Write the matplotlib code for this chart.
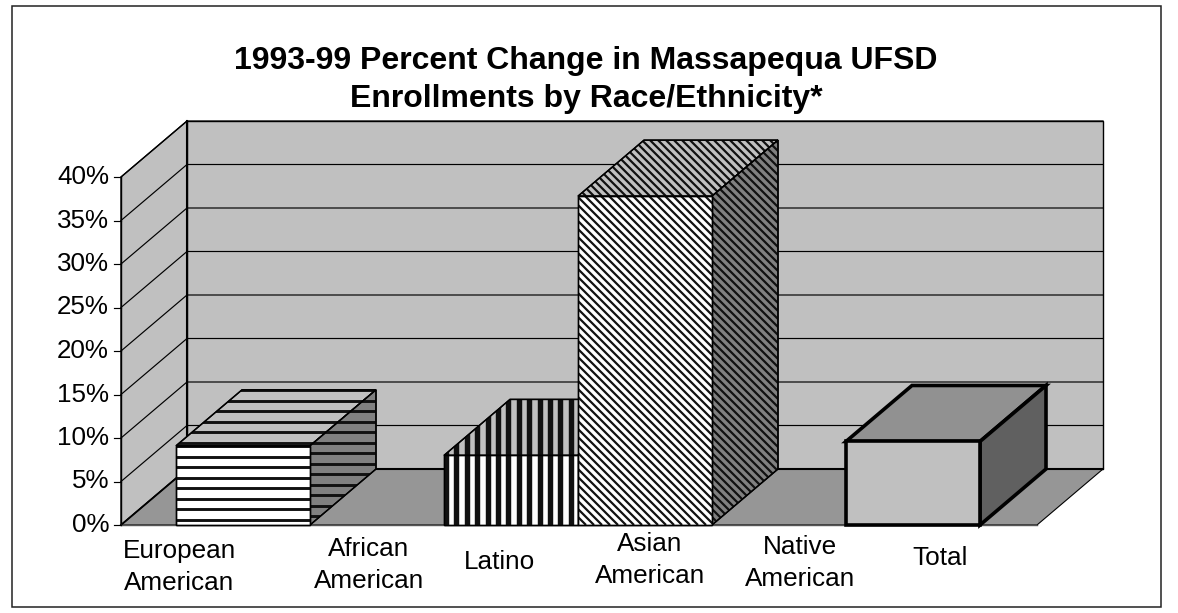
import numpy as np
import matplotlib
matplotlib.use('Agg')
import matplotlib.pyplot as plt
from matplotlib.collections import LineCollection
from matplotlib.patches import Polygon
from matplotlib.transforms import IdentityTransform

plt.rcParams['font.family'] = ['Liberation Sans', 'DejaVu Sans']

# Enrollment change by group, percent
categories = ['European\nAmerican', 'African\nAmerican', 'Latino', 'Asian\nAmerican', 'Native\nAmerican', 'Total']
values = [9.1, 0.0, 8.0, 37.8, 0.0, 9.6]
tick_values = [0, 5, 10, 15, 20, 25, 30, 35, 40]
tick_labels = ['0%', '5%', '10%', '15%', '20%', '25%', '30%', '35%', '40%']
title = '1993-99 Percent Change in Massapequa UFSD\nEnrollments by Race/Ethnicity*'

W, H = 1178, 613
DPI = 100
PX_CAT = 134.0   # pixels per category
PX_PCT = 8.7     # pixels per percent
X0, Y0 = 176.0, 525.0   # pixel position of the first bar's lower left corner

fig = plt.figure(figsize=(W / DPI, H / DPI), dpi=DPI, facecolor='white')
ax = fig.add_axes([0, 0, 1, 1])
ax.set_xlim(-X0 / PX_CAT, (W - X0) / PX_CAT)
ax.set_ylim(-(H - Y0) / PX_PCT, Y0 / PX_PCT)
ax.axis('off')

DX = 66.0 / PX_CAT  # oblique depth offset
DY = 56.0 / PX_PCT
LEFT = -55.0 / PX_CAT
RIGHT = len(categories) + 57.0 / PX_CAT
TOP = tick_values[-1]


def P(x, y, d=0.0):
    return (x + d * DX, y + d * DY)


def face(points, color, lw=1.0, z=2):
    patch = Polygon(points, closed=True, facecolor=color, edgecolor='black', linewidth=lw, zorder=z, joinstyle='miter')
    ax.add_patch(patch)
    return patch


def stripes(patch, kind, period, lw, z, color='#000000'):
    # fill a face with pixel spaced stripes, clipped to the face
    pts = ax.transData.transform(patch.get_xy())
    x0, y0 = pts.min(axis=0)
    x1, y1 = pts.max(axis=0)
    segs = []
    if kind == 'h':
        for y in np.arange(y1 - 0.5, y0, -period):
            segs.append([(x0, y), (x1, y)])
    elif kind == 'v':
        for x in np.arange(x0 + 2, x1, period):
            segs.append([(x, y0), (x, y1)])
    else:
        span = (x1 - x0) + (y1 - y0)
        for c in np.arange(0, span, period):
            segs.append([(x0 + c - (y1 - y0), y1), (x0 + c, y0)])
    lc = LineCollection(segs, colors=color, linewidths=lw, transform=IdentityTransform(), zorder=z)
    ax.add_collection(lc, autolim=False)
    lc.set_clip_path(patch.get_path(), patch.get_transform())


# walls and floor
face([P(LEFT, 0), P(LEFT, TOP), P(LEFT, TOP, 1), P(LEFT, 0, 1)], '#c0c0c0', 1.0, 1)
face([P(LEFT, 0, 1), P(LEFT, TOP, 1), P(RIGHT, TOP, 1), P(RIGHT, 0, 1)], '#c0c0c0', 1.0, 1)
face([P(LEFT, 0), P(LEFT, 0, 1), P(RIGHT, 0, 1), P(RIGHT, 0)], '#969696', 0.8, 1)
for t in tick_values[1:]:
    xs, ys = zip(P(LEFT, t), P(LEFT, t, 1), P(RIGHT, t, 1))
    ax.plot(xs, ys, color='black', lw=0.85, zorder=1.5)
ax.plot(*zip(P(LEFT, 0, 1), P(LEFT, TOP, 1)), color='black', lw=1.5, zorder=1.5)
ax.plot(*zip(P(LEFT, 0, 1), P(RIGHT, 0, 1)), color='black', lw=1.5, zorder=1.5)
ax.plot(*zip(P(LEFT, 0), P(LEFT, 0, 1)), color='black', lw=1.3, zorder=1.5)
ax.plot(*zip(P(LEFT, 0), P(LEFT, TOP)), color='black', lw=1.0, zorder=1.5)
ax.plot(*zip(P(LEFT, 0), P(RIGHT, 0)), color='#555555', lw=1.0, zorder=1.5)

# y ticks
for t, lab in zip(tick_values, tick_labels):
    ax.plot([LEFT - 7 / PX_CAT, LEFT], [t, t], color='black', lw=0.85, zorder=1.5)
    ax.text(LEFT - 12 / PX_CAT, t, lab, ha='right', va='center', fontsize=18.7, color='black')

# bars, left to right
bar_styles = [('h', 10.5, 2.1), None, ('v', 10.4, 3.9), ('d', 8.0, 1.6), None, None]
z = 3
for i, (v, st) in enumerate(zip(values, bar_styles)):
    if v == 0:
        continue
    solid = st is None
    lw = 2.6 if solid else 1.0
    top = [P(i, v), P(i, v, 1), P(i + 1, v, 1), P(i + 1, v)]
    side = [P(i + 1, 0), P(i + 1, v), P(i + 1, v, 1), P(i + 1, 0, 1)]
    front = [P(i, 0), P(i, v), P(i + 1, v), P(i + 1, 0)]
    colors = ('#919191', '#606060', '#c0c0c0') if solid else ('#c0c0c0', '#808080', '#ffffff')
    for pts, col in zip((top, side, front), colors):
        p = face(pts, col, lw, z)
        if not solid:
            stripes(p, st[0], st[1], st[2], z + 0.1, color='#111111')
            ax.add_patch(Polygon(pts, closed=True, fill=False, edgecolor='black', linewidth=lw, zorder=z + 0.2))
        z += 1

# category labels
label_x = [179, 369, 499, 650, 800, 940]
label_y = [567, 565, 562, 560, 563, 558]
for name, lx, ly in zip(categories, label_x, label_y):
    ax.text((lx - X0) / PX_CAT, (Y0 - ly) / PX_PCT, name, ha='center', va='center', fontsize=18.8,
            linespacing=1.39, color='black')

ax.text((586 - X0) / PX_CAT, (Y0 - 80) / PX_PCT, title, ha='center', va='center', fontsize=23,
        fontweight='bold', linespacing=1.37, color='black')

# outer frame
fx0, fx1, fy0, fy1 = 12 / W, 1161 / W, 1 - 607 / H, 1 - 6 / H
fig.add_artist(plt.Rectangle((fx0, fy0), fx1 - fx0, fy1 - fy0, transform=fig.transFigure, fill=False,
                             edgecolor='#222222', linewidth=1.1))

fig.savefig('out.png', dpi=DPI, facecolor='white')
